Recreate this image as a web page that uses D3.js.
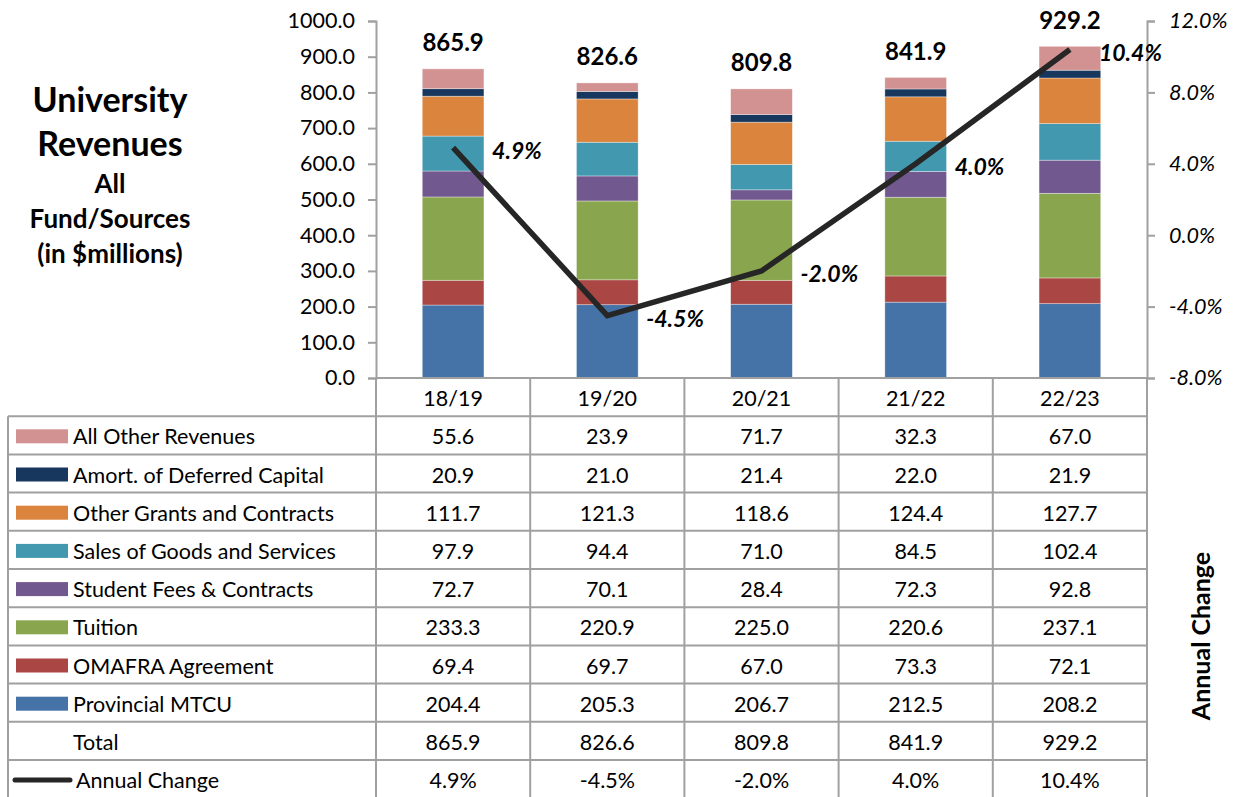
<!DOCTYPE html>
<html>
<head>
<meta charset="utf-8">
<script src="https://cdn.jsdelivr.net/npm/d3@7"></script>
<style>
  body { margin: 0; background: #fff; }
  svg { display: block; font-family: Lato, 'Noto Sans', sans-serif; }
</style>
</head>
<body>
<svg id="chart" width="1240" height="797"></svg>
<script>
const categories = ['18/19', '19/20', '20/21', '21/22', '22/23'];

const provincialMTCU = [204.4, 205.3, 206.7, 212.5, 208.2];
const omafraAgreement = [69.4, 69.7, 67.0, 73.3, 72.1];
const tuition = [233.3, 220.9, 225.0, 220.6, 237.1];
const studentFees = [72.7, 70.1, 28.4, 72.3, 92.8];
const salesGoods = [97.9, 94.4, 71.0, 84.5, 102.4];
const otherGrants = [111.7, 121.3, 118.6, 124.4, 127.7];
const amortCapital = [20.9, 21.0, 21.4, 22.0, 21.9];
const allOther = [55.6, 23.9, 71.7, 32.3, 67.0];
const totals = [865.9, 826.6, 809.8, 841.9, 929.2];
const annualChange = [4.9, -4.5, -2.0, 4.0, 10.4];

const leftTicks = [0, 100, 200, 300, 400, 500, 600, 700, 800, 900, 1000];
const rightTicks = [-8, -4, 0, 4, 8, 12];

// stack order, bottom to top
const series = [
  {name: 'Provincial MTCU', values: provincialMTCU, color: '#4572a7'},
  {name: 'OMAFRA Agreement', values: omafraAgreement, color: '#aa4643'},
  {name: 'Tuition', values: tuition, color: '#89a54e'},
  {name: 'Student Fees & Contracts', values: studentFees, color: '#71588f'},
  {name: 'Sales of Goods and Services', values: salesGoods, color: '#4198af'},
  {name: 'Other Grants and Contracts', values: otherGrants, color: '#db843d'},
  {name: 'Amort. of Deferred Capital', values: amortCapital, color: '#17375e'},
  {name: 'All Other Revenues', values: allOther, color: '#d39292'}
];

const dims = {left: 376, right: 1147, top: 21, bottom: 378, tableLeft: 8, rowH: 38.2};
const gridColor = '#a0a0a0';
const fontSize = 21.5;

const svg = d3.select('#chart');

const xBand = d3.scaleBand().domain(categories).range([dims.left, dims.right]).paddingInner(0.6).paddingOuter(0.3);
const xCol = d3.scaleBand().domain(categories).range([dims.left, dims.right]);
const yLeft = d3.scaleLinear().domain([0, 1000]).range([dims.bottom, dims.top]);
const yRight = d3.scaleLinear().domain([-8, 12]).range([dims.bottom, dims.top]);

// stacked bars
const tableData = categories.map((c, i) => {
  const row = {cat: c};
  series.forEach(s => row[s.name] = s.values[i]);
  return row;
});
const stacked = d3.stack().keys(series.map(s => s.name))(tableData);

svg.append('g').selectAll('g')
  .data(stacked)
  .enter()
  .append('g')
  .attr('fill', (d, i) => series[i].color)
  .selectAll('rect')
  .data(d => d)
  .enter()
  .append('rect')
  .attr('x', d => xBand(d.data.cat))
  .attr('width', xBand.bandwidth())
  .attr('y', d => yLeft(d[1]))
  .attr('height', d => yLeft(d[0]) - yLeft(d[1]))
  .attr('stroke', 'rgba(255,255,255,0.5)')
  .attr('stroke-width', 0.7);

// total labels above bars
svg.append('g').selectAll('text')
  .data(totals)
  .enter()
  .append('text')
  .attr('x', (d, i) => xBand(categories[i]) + xBand.bandwidth() / 2)
  .attr('y', d => yLeft(d) - 27)
  .attr('text-anchor', 'middle')
  .attr('dominant-baseline', 'central')
  .attr('font-weight', 'bold')
  .attr('font-size', 24)
  .text(d => d.toFixed(1));

// left axis
const yAxisL = d3.axisLeft(yLeft).tickValues(leftTicks).tickSize(8).tickFormat(d3.format('.1f'));
const gL = svg.append('g').attr('transform', `translate(${dims.left},0)`).call(yAxisL);
gL.select('.domain').attr('stroke', gridColor).attr('stroke-width', 2);
gL.selectAll('line').attr('stroke', gridColor).attr('stroke-width', 2);
gL.selectAll('text').attr('font-size', 21.5).attr('fill', '#000').attr('font-family', 'Lato').attr('x', -21);

// right axis
const yAxisR = d3.axisRight(yRight).tickValues(rightTicks).tickSize(8).tickFormat(d => d.toFixed(1) + '%');
const gR = svg.append('g').attr('transform', `translate(${dims.right},0)`).call(yAxisR);
gR.select('.domain').attr('stroke', gridColor).attr('stroke-width', 2);
gR.selectAll('line').attr('stroke', gridColor).attr('stroke-width', 2);
gR.selectAll('text').attr('font-size', 21.5).attr('fill', '#000').attr('font-style', 'italic').attr('font-family', 'Lato').attr('x', 22);

// annual change line
const line = d3.line()
  .x((d, i) => xBand(categories[i]) + xBand.bandwidth() / 2)
  .y(d => yRight(d));
svg.append('path')
  .attr('d', line(annualChange))
  .attr('fill', 'none')
  .attr('stroke', '#262626')
  .attr('stroke-width', 5.5)
  .attr('stroke-linejoin', 'miter');

svg.append('g').selectAll('text')
  .data(annualChange)
  .enter()
  .append('text')
  .attr('x', (d, i) => xBand(categories[i]) + xBand.bandwidth() / 2 + (i === 4 ? 29 : 39))
  .attr('y', d => yRight(d) + 2)
  .attr('dominant-baseline', 'central')
  .attr('font-weight', 'bold')
  .attr('font-style', 'italic')
  .attr('font-size', 23)
  .text(d => d.toFixed(1) + '%');

// data table
const table = svg.append('g');
const rows = series.slice().reverse().map(s => ({name: s.name, color: s.color, cells: s.values.map(v => v.toFixed(1))}));
rows.push({name: 'Total', cells: totals.map(v => v.toFixed(1))});
rows.push({name: 'Annual Change', line: true, cells: annualChange.map(v => v.toFixed(1) + '%')});

const tableTop = dims.bottom;
// header row with categories
categories.forEach(c => {
  table.append('text')
    .attr('x', xCol(c) + xCol.bandwidth() / 2)
    .attr('y', tableTop + dims.rowH / 2 + 1)
    .attr('text-anchor', 'middle')
    .attr('dominant-baseline', 'central')
    .attr('font-size', fontSize)
    .text(c);
});

rows.forEach((r, i) => {
  const y0 = tableTop + dims.rowH * (i + 1);
  const cy = y0 + dims.rowH / 2 + 1;
  if (r.color)
    table.append('rect').attr('x', 16).attr('y', cy - 7).attr('width', 52).attr('height', 14).attr('fill', r.color);
  if (r.line)
    table.append('line').attr('x1', 15).attr('x2', 70).attr('y1', cy).attr('y2', cy)
      .attr('stroke', '#262626').attr('stroke-width', 5).attr('stroke-linecap', 'round');
  table.append('text')
    .attr('x', r.line ? 76 : 73)
    .attr('y', cy)
    .attr('dominant-baseline', 'central')
    .attr('font-size', fontSize)
    .text(r.name);
  r.cells.forEach((v, j) => {
    table.append('text')
      .attr('x', xCol(categories[j]) + xCol.bandwidth() / 2)
      .attr('y', cy)
      .attr('text-anchor', 'middle')
      .attr('dominant-baseline', 'central')
      .attr('font-size', fontSize)
      .text(v);
  });
});

// grid lines
const nRows = rows.length + 1;
for (let i = 0; i <= nRows; i++) {
  const y = tableTop + dims.rowH * i;
  table.append('line')
    .attr('x1', i === 0 ? dims.left : dims.tableLeft).attr('x2', dims.right)
    .attr('y1', y).attr('y2', y)
    .attr('stroke', gridColor).attr('stroke-width', 2);
}
xCol.domain().forEach(c => {
  table.append('line')
    .attr('x1', xCol(c)).attr('x2', xCol(c))
    .attr('y1', tableTop).attr('y2', 797)
    .attr('stroke', gridColor).attr('stroke-width', 2);
});
table.append('line').attr('x1', dims.right).attr('x2', dims.right).attr('y1', tableTop).attr('y2', 797)
  .attr('stroke', gridColor).attr('stroke-width', 2);
table.append('line').attr('x1', dims.tableLeft).attr('x2', dims.tableLeft).attr('y1', tableTop + dims.rowH).attr('y2', 797)
  .attr('stroke', gridColor).attr('stroke-width', 2);

// title block
const title = [
  {text: 'University', size: 34, y: 98},
  {text: 'Revenues', size: 34, y: 142},
  {text: 'All', size: 26, y: 183},
  {text: 'Fund/Sources', size: 26, y: 218},
  {text: '(in $millions)', size: 26, y: 253}
];
svg.append('g').selectAll('text')
  .data(title)
  .enter()
  .append('text')
  .attr('x', 110)
  .attr('y', d => d.y)
  .attr('text-anchor', 'middle')
  .attr('dominant-baseline', 'central')
  .attr('font-weight', 'bold')
  .attr('font-size', d => d.size)
  .text(d => d.text);

svg.append('text')
  .attr('transform', 'translate(1200,636) rotate(-90)')
  .attr('text-anchor', 'middle')
  .attr('dominant-baseline', 'central')
  .attr('font-weight', 'bold')
  .attr('font-size', 25)
  .text('Annual Change');
</script>
</body>
</html>
